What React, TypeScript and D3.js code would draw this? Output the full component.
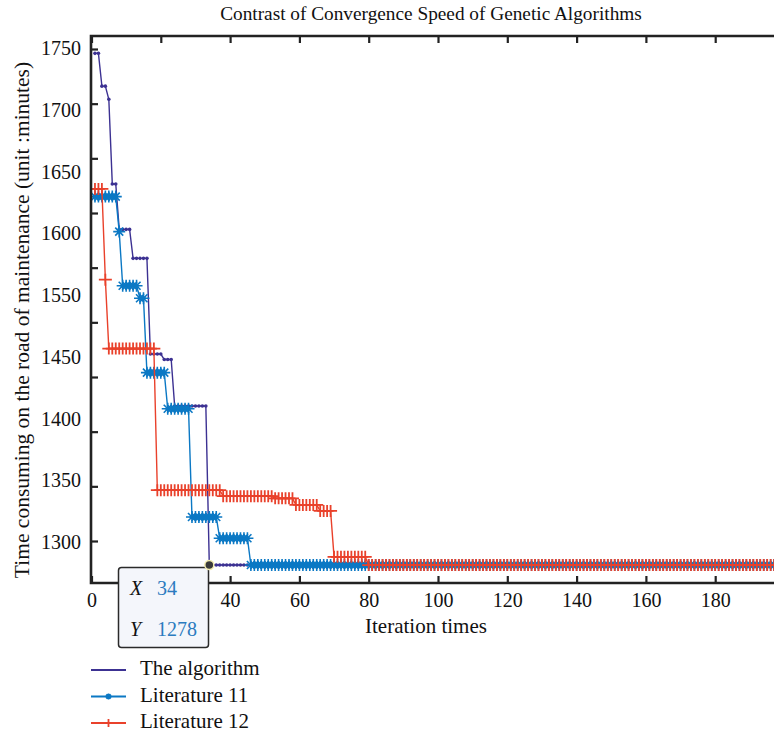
import React, { useEffect, useRef } from "react";
import * as d3 from "d3";

// runs of equal best value: [first iteration, last iteration, minutes]
const algorithmRuns: [number, number, number][] = [
  [1, 2, 1746], [3, 4, 1716], [5, 5, 1704], [6, 7, 1626.5], [8, 11, 1585],
  [12, 16, 1558.5], [17, 20, 1471], [21, 23, 1466], [24, 33, 1423.5], [34, 200, 1278],
];
const lit11Runs: [number, number, number][] = [
  [1, 7, 1615], [8, 8, 1583], [9, 13, 1533.5], [14, 15, 1522], [16, 21, 1454],
  [22, 28, 1421], [29, 36, 1322], [37, 45, 1302.5], [46, 200, 1278],
];
const lit12Runs: [number, number, number][] = [
  [1, 3, 1622], [4, 4, 1539], [5, 18, 1476], [19, 37, 1346.5], [38, 52, 1341],
  [53, 58, 1339], [59, 65, 1333], [66, 69, 1327.5], [70, 79, 1285.5], [80, 200, 1278],
];
const seriesNames = ["The algorithm", "Literature 11", "Literature 12"];
const xTicks = [0, 20, 40, 60, 80, 100, 120, 140, 160, 180];
const xHiddenLabels = [20]; // covered by the data tip in the figure
const yTicks = [1300, 1350, 1400, 1450, 1500, 1550, 1600, 1650, 1700, 1750];
const yTickLabels = ["1750", "1700", "1650", "1600", "1550", "1450", "1400", "1350", "1300"];
const tip = { x: 34, y: 1278 };

const FONT = "'Liberation Serif', 'DejaVu Serif', serif";
const colors = ["#3c3192", "#0b78c4", "#e9412b"];

function expand(runs: [number, number, number][]) {
  return runs.flatMap(([a, b, v]) => d3.range(a, b + 1).map((i) => ({ i, v })));
}

export default function App() {
  const ref = useRef<SVGSVGElement>(null);

  useEffect(() => {
    const svg = d3.select(ref.current);
    svg.selectAll("*").remove();

    const left = 91, top = 36, bottom = 583, right = 774;
    const x = d3.scaleLinear().domain([0, 200]).range([91.5, 784.5]);
    const y = d3.scaleLinear().domain([1300, 1750]).range([541, 49]);

    svg.append("defs").append("clipPath").attr("id", "plotclip")
      .append("rect").attr("x", left).attr("y", top)
      .attr("width", right - left).attr("height", bottom - top);

    // title
    svg.append("text").attr("x", 431).attr("y", 20)
      .attr("text-anchor", "middle").attr("font-size", 19.3).attr("fill", "#111")
      .text("Contrast of Convergence Speed of Genetic Algorithms");

    // series
    const plot = svg.append("g").attr("clip-path", "url(#plotclip)");
    const line = d3.line<{ i: number; v: number }>().x((d) => x(d.i)).y((d) => y(d.v));
    const starPath = "M-6,0H6M0,-6V6M-4,-4L4,4M-4,4L4,-4";
    const plusPath = "M-6.5,0H6.5M0,-6V6";

    [algorithmRuns, lit11Runs, lit12Runs].forEach((runs, k) => {
      const data = expand(runs);
      const g = plot.append("g");
      g.append("path").datum(data).attr("d", line)
        .attr("fill", "none").attr("stroke", colors[k]).attr("stroke-width", 1.4);
      if (k === 0) {
        g.selectAll("circle").data(data).enter().append("circle")
          .attr("cx", (d) => x(d.i)).attr("cy", (d) => y(d.v))
          .attr("r", 1.8).attr("fill", colors[k]);
      } else {
        g.selectAll("path.m").data(data).enter().append("path")
          .attr("class", "m")
          .attr("transform", (d) => "translate(" + x(d.i) + "," + y(d.v) + ")")
          .attr("d", k === 1 ? starPath : plusPath)
          .attr("fill", "none").attr("stroke", colors[k])
          .attr("stroke-width", k === 1 ? 1.6 : 1.8);
      }
    });

    // axes
    const xAxis = svg.append("g").attr("transform", "translate(0," + bottom + ")")
      .call(d3.axisBottom(x).tickValues(xTicks).tickSize(-7).tickPadding(10)
        .tickFormat((d) => (xHiddenLabels.includes(+d) ? "" : String(d))));
    const xTop = svg.append("g").attr("transform", "translate(0," + top + ")")
      .call(d3.axisTop(x).tickValues(xTicks).tickSize(-7).tickFormat(() => ""));
    const yAxis = svg.append("g").attr("transform", "translate(" + left + ",0)")
      .call(d3.axisLeft(y).tickValues(yTicks).tickSize(-7).tickFormat(() => ""));
    [xAxis, xTop, yAxis].forEach((a) => {
      a.select(".domain").remove();
      a.selectAll("line").attr("stroke", "#222").attr("stroke-width", 2.2);
      a.selectAll("text").attr("font-family", FONT).attr("font-size", 20).attr("fill", "#111");
    });
    svg.append("path")
      .attr("d", "M" + right + "," + top + "H" + left + "V" + bottom + "H" + right)
      .attr("fill", "none").attr("stroke", "#222").attr("stroke-width", 2.6);

    // y tick labels (as printed in the figure)
    const yl = d3.scalePoint().domain(yTickLabels).range([y(1750) - 1, y(1300) + 1]);
    svg.append("g").selectAll("text").data(yTickLabels).enter().append("text")
      .attr("x", 81).attr("y", (d) => (yl(d) as number) + 7)
      .attr("text-anchor", "end").attr("font-size", 20).attr("fill", "#111")
      .text((d) => d);

    // axis titles
    svg.append("text").attr("x", 426).attr("y", 633)
      .attr("text-anchor", "middle").attr("font-size", 21).attr("fill", "#111")
      .text("Iteration times");
    svg.append("text").attr("transform", "translate(29,320) rotate(-90)")
      .attr("text-anchor", "middle").attr("font-size", 21.5).attr("fill", "#111")
      .text("Time consuming on the road of maintenance (unit :minutes)");

    // data tip
    const tx = x(tip.x), ty = y(tip.y);
    const tg = svg.append("g");
    tg.append("rect").attr("x", 118.5).attr("y", 567.5).attr("width", 90).attr("height", 80)
      .attr("rx", 3).attr("fill", "#f4f6fb").attr("stroke", "#2a2a2a").attr("stroke-width", 1.5);
    tg.append("circle").attr("cx", tx).attr("cy", ty).attr("r", 4.5)
      .attr("fill", "#3a3a3a").attr("stroke", "#f3ecb0").attr("stroke-width", 1.5);
    [["X", String(tip.x), 595], ["Y", String(tip.y), 636]].forEach(([k, v, by]) => {
      tg.append("text").attr("x", 130).attr("y", by as number).attr("font-size", 20)
        .attr("font-style", "italic").attr("fill", "#111").text(k as string);
      tg.append("text").attr("x", 157).attr("y", by as number).attr("font-size", 20)
        .attr("fill", "#2b7bbf").text(v as string);
    });

    // legend
    const leg = svg.append("g");
    seriesNames.forEach((name, k) => {
      const ly = 670 + k * 26.5;
      leg.append("line").attr("x1", 91).attr("x2", 126).attr("y1", ly).attr("y2", ly)
        .attr("stroke", colors[k]).attr("stroke-width", 2);
      if (k > 0) {
        leg.append("path").attr("transform", "translate(108.5," + ly + ")")
          .attr("d", k === 1 ? "M-3,0H3M0,-3V3M-2.2,-2.2L2.2,2.2M-2.2,2.2L2.2,-2.2" : "M0,-4V4")
          .attr("stroke", colors[k]).attr("stroke-width", 1.8);
      }
      leg.append("text").attr("x", 140).attr("y", ly + 5).attr("font-size", 21)
        .attr("fill", "#111").text(name);
    });
  }, []);

  return (
    <svg ref={ref} width={774} height={733} fontFamily={FONT}
      style={{ position: "absolute", left: 0, top: 0, background: "#fff" }} />
  );
}
